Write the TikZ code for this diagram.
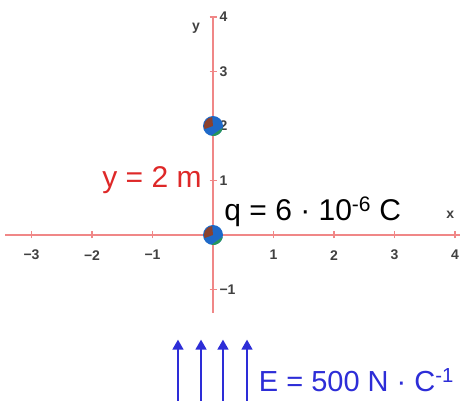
\documentclass[tikz,border=0pt]{standalone}
\usepackage{fontspec}
\setmainfont{Liberation Sans}
\usepackage{tikz}
\usetikzlibrary{arrows.meta, positioning, calc}
\definecolor{axispink}{RGB}{240,135,135}
\definecolor{labelred}{RGB}{222,40,40}
\definecolor{fieldblue}{RGB}{45,45,215}
\definecolor{chargeblue}{RGB}{30,105,200}
\definecolor{chargebrown}{RGB}{140,65,45}
\definecolor{chargegreen}{RGB}{40,150,90}
\tikzset{
  axis/.style={axispink, line width=2.4pt},
  tick/.style={axispink, line width=1.4pt},
  ticklabel/.style={font=\fontsize{14}{14}\selectfont\bfseries, text=black!75},
  fieldarrow/.style={fieldblue, line width=1.6pt, -{Triangle[width=11pt, length=10pt]}},
}
% one point charge drawn as a small ball
\newcommand{\chargeball}[1]{%
  \fill[chargeblue] (#1) circle (10pt);
  \fill[chargegreen] ($(#1)+(-100:10pt)$) arc (-100:-10:10pt) -- cycle;
  \fill[chargebrown] (#1) -- ($(#1)+(95:9pt)$) arc (95:200:9pt) -- cycle;
}

\begin{document}
\begin{tikzpicture}[x=60.5pt, y=54.5pt]
  \useasboundingbox (-3.5207,-3.0459) rectangle (4.1818,4.3119);
  % axes
  \draw[axis] (-3.438,0) -- (4.083,0);
  \draw[axis] (0,-1.431) -- (0,4.0);
  % ticks and numbers on the x axis
  \foreach \xval/\xtext in {-3/−3,-2/−2,-1/−1,1/1,2/2,3/3,4/4} {
    \draw[tick] (\xval,0) ++(0,-3.5pt) -- ++(0,7pt);
    \node[ticklabel] (xlab\xval) at (\xval,-0.37) {\xtext};
  }
  % ticks and numbers on the y axis
  \foreach \yval/\ytext in {-1/−1,1/1,2/2,3/3,4/4} {
    \draw[tick] (0,\yval) ++(-3.5pt,0) -- ++(7pt,0);
    \node[ticklabel, anchor=west] (ylab\yval) at (0.05,\yval) {\ytext};
  }
  \node[ticklabel, font=\fontsize{14}{14}\selectfont\bfseries] (yname) at (-0.28,3.8) {y};
  \node[ticklabel, font=\fontsize{14}{14}\selectfont\bfseries] (xname) at (3.92,0.37) {x};
  % the two charges
  \chargeball{0,2}
  \chargeball{0,0}
  % labels
  \node[anchor=east, text=labelred, font=\fontsize{30}{30}\selectfont] (ylevel) at (-0.13,1.0) {y = 2 m};
  \node[anchor=west, font=\fontsize{30}{30}\selectfont] (qval) at (0.13,0.42) {q = 6 · 10\textsuperscript{-6} C};
  % uniform field
  \foreach \xa [count=\i] in {-0.579,-0.198,0.165,0.562} {
    \coordinate (fbot\i) at (\xa,-3.046);
    \coordinate (ftop\i) at (\xa,-1.92);
    \draw[fieldarrow] (fbot\i) -- (ftop\i);
  }
  \node[anchor=west, text=fieldblue, font=\fontsize{29}{29}\selectfont] (efield) at (0.70,-2.66) {E = 500 N · C\textsuperscript{-1}};
\end{tikzpicture}
\end{document}
